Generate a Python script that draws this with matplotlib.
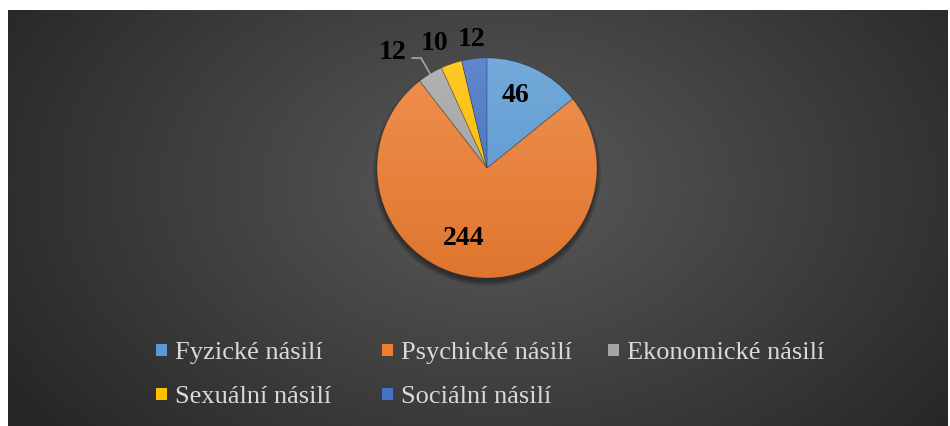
import numpy as np
import matplotlib.pyplot as plt
import matplotlib.colors as mcolors
from matplotlib.patches import Rectangle, Circle

# === DATI ===
categories = ["Fyzické násilí", "Psychické násilí", "Ekonomické násilí",
              "Sexuální násilí", "Sociální násilí"]
values = [46, 244, 12, 10, 12]
colors = ["#5B9BD5", "#ED7D31", "#A5A5A5", "#FFC000", "#4472C4"]

# posizione etichette (unità del raggio), non sono dati
label_pos = [(0.26, 0.66), (-0.21, -0.64), (-0.86, 1.05), (-0.48, 1.13), (-0.14, 1.17)]

W, H = 950, 426
fig = plt.figure(figsize=(W / 100, H / 100), dpi=100)
fig.patch.set_facecolor("white")

# --- sfondo con gradiente radiale ---
fx0, fy0, fx1, fy1 = 8, 10, 948, 426
bg = fig.add_axes([fx0 / W, 1 - fy1 / H, (fx1 - fx0) / W, (fy1 - fy0) / H])
bg.set_axis_off()
yy, xx = np.mgrid[0:fy1 - fy0, 0:fx1 - fx0]
cx, cy = (fx1 - fx0) * 0.52, (fy1 - fy0) * 0.42
d = np.sqrt(((xx - cx) / ((fx1 - fx0) * 0.62)) ** 2 + ((yy - cy) / ((fy1 - fy0) * 0.95)) ** 2)
d = np.clip(d, 0, 1)
c_in = np.array(mcolors.to_rgb("#5A5A5A"))
c_out = np.array(mcolors.to_rgb("#262626"))
img = c_in[None, None, :] * (1 - d[..., None]) + c_out[None, None, :] * d[..., None]
bg.imshow(img, aspect="auto", extent=(0, 1, 0, 1))
bg.set_xlim(0, 1)
bg.set_ylim(0, 1)

# --- torta ---
R = 110
pcx, pcy = 487, 168
lim = 1.3
box = 2 * lim * R
ax = fig.add_axes([(pcx - box / 2) / W, 1 - (pcy + box / 2) / H, box / W, box / H])
ax.set_axis_off()

# ombra
for k, a in enumerate([0.10, 0.10, 0.10, 0.12]):
    ax.add_patch(Circle((0, -0.035), 1.0 + 0.012 * (3 - k), color="black", alpha=a, lw=0, zorder=0))

wedges, _ = ax.pie(values, colors=colors, startangle=90, counterclock=False,
                   radius=1, wedgeprops=dict(linewidth=0.6, edgecolor="#00000030"))

# gradiente verticale dentro ogni spicchio
g = np.linspace(0, 1, 256)[:, None]
for w, c in zip(wedges, colors):
    base = np.array(mcolors.to_rgb(c))
    top = base + (1 - base) * 0.15
    bot = base * 0.94
    grad = top[None, None, :] * (1 - g[..., None]) + bot[None, None, :] * g[..., None]
    grad = np.repeat(grad, 2, axis=1)
    im = ax.imshow(grad, extent=(-1, 1, -1, 1), aspect="auto", zorder=1.5)
    im.set_clip_path(w)
    w.set_facecolor("none")
    w.set_zorder(2)
ax.set_xlim(-lim, lim)
ax.set_ylim(-lim, lim)

for (lx, ly), v in zip(label_pos, values):
    ax.text(lx, ly, str(v), ha="center", va="center", fontsize=20, fontweight="bold",
            family="Liberation Serif", color="black", zorder=5)

# linea guida per "Ekonomické násilí"
tot = sum(values)
mid = 90 - (sum(values[:2]) + values[2] / 2) / tot * 360
ex, ey = np.cos(np.radians(mid)), np.sin(np.radians(mid))
ax.plot([-0.68, -0.60, ex], [1.0, 1.0, ey], color="#A6A6A6", lw=1.2, zorder=4, clip_on=False)

# --- legenda ---
x0, dx = 156, 226
rows_y = [359, 403]
for i, (cat, c) in enumerate(zip(categories, colors)):
    col, row = i % 3, i // 3
    x = x0 + col * dx
    yb = rows_y[row]
    fig.patches.append(Rectangle((x / W, 1 - (yb - 3) / H), 11 / W, 12 / H,
                                 transform=fig.transFigure, facecolor=c, edgecolor="none"))
    fig.text((x + 19) / W, 1 - yb / H, cat, fontsize=19, family="Liberation Serif",
             color="#D9D9D9", ha="left", va="baseline")

fig.savefig("out.png", dpi=100)
